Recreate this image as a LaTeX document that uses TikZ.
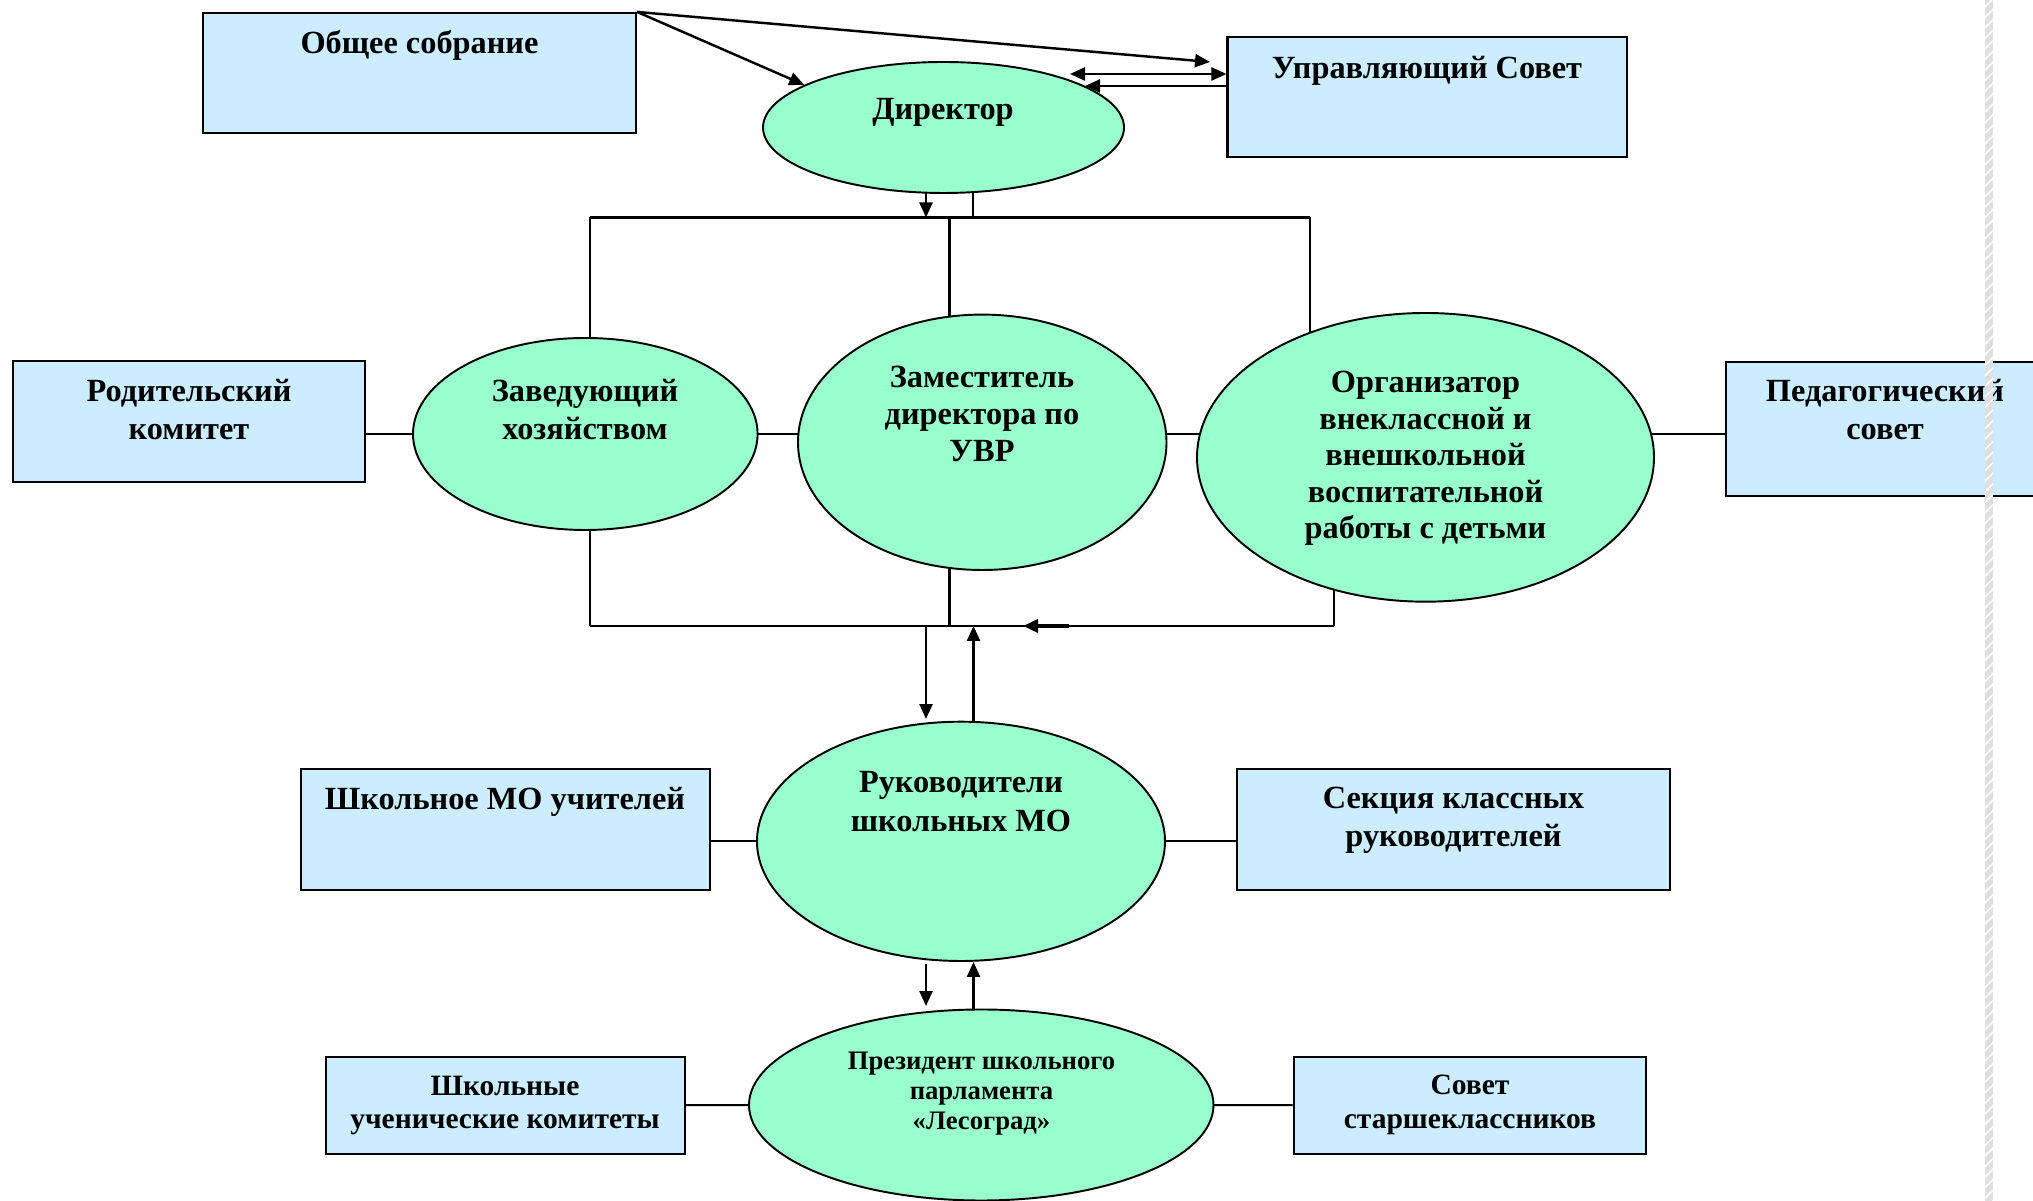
\documentclass[tikz,border=0pt]{standalone}
\usepackage{fontspec}
\setmainfont{Liberation Serif}
\usetikzlibrary{shapes.geometric,arrows.meta,patterns,calc}
\pgfdeclarelayer{bg}
\pgfsetlayers{bg,main}
\definecolor{boxfill}{HTML}{CCECFF}
\definecolor{ellfill}{HTML}{99FFCC}
\newcommand{\ml}[1]{\begin{tabular}[t]{@{}c@{}}#1\end{tabular}}
\tikzset{
  box/.style={draw, fill=boxfill, line width=0.6pt, inner sep=0pt},
  ell/.style={draw, ellipse, fill=ellfill, line width=0.55pt, inner sep=0pt},
  txt/.style={anchor=base, inner sep=0pt, font=\fontsize{9.2}{10.8}\selectfont\bfseries},
  txtb/.style={anchor=base, inner sep=0pt, font=\fontsize{9.2}{10.4}\selectfont\bfseries},
  txtc/.style={anchor=base, inner sep=0pt, font=\fontsize{9.2}{11}\selectfont\bfseries},
  txts/.style={anchor=base, inner sep=0pt, font=\fontsize{8.4}{9.4}\selectfont\bfseries},
  txtp/.style={anchor=base, inner sep=0pt, font=\fontsize{7.6}{8.5}\selectfont\bfseries},
  link/.style={line width=0.6pt},
  arr/.style={line width=0.7pt, -{Triangle[length=1.5mm,width=1.3mm]}},
  darr/.style={line width=0.7pt, {Triangle[length=1.5mm,width=1.3mm]}-{Triangle[length=1.5mm,width=1.3mm]}},
}
\begin{document}
\begin{tikzpicture}[x=0.1mm,y=-0.1mm]
\useasboundingbox (0,0) rectangle (2033,1201);
\clip (0,0) rectangle (2033,1201);

% boxes
\node[box, minimum width=43.3mm, minimum height=12.0mm] (obs) at (419.5,73) {};
\node[box, minimum width=39.95mm, minimum height=12.03mm] (upr) at (1427.25,96.85) {};
\node[box, minimum width=35.2mm, minimum height=12.1mm] (rod) at (189,421.5) {};
\node[box, minimum width=31.94mm, minimum height=13.4mm] (ped) at (1885.3,429) {};
\node[box, minimum width=40.86mm, minimum height=12.07mm] (shkmo) at (505.3,829.35) {};
\node[box, minimum width=43.3mm, minimum height=12.1mm] (sek) at (1453.5,829.5) {};
\node[box, minimum width=35.94mm, minimum height=9.72mm] (shkuch) at (505.3,1105.2) {};
\node[box, minimum width=35.24mm, minimum height=9.72mm] (sovet) at (1469.8,1105.2) {};

% ellipses
\node[ell, minimum width=36.1mm, minimum height=13.1mm] (dir) at (943.5,127.5) {};
\node[ell, minimum width=34.46mm, minimum height=19.2mm] (zav) at (585.3,434) {};
\node[ell, minimum width=36.85mm, minimum height=25.54mm] (zam) at (982.25,442.3) {};
\node[ell, minimum width=45.7mm, minimum height=28.87mm] (org) at (1425.5,457.35) {};
\node[ell, minimum width=40.8mm, minimum height=23.93mm] (ruk) at (961,841.35) {};
\node[ell, minimum width=46.45mm, minimum height=19.1mm] (pres) at (981.25,1105) {};

% bus coordinates
\coordinate (tL) at (590,217.5);
\coordinate (tM) at (949.5,217.5);
\coordinate (tR) at (1310,217.5);
\coordinate (tA) at (926,217.5);
\coordinate (tB) at (973,217.5);
\coordinate (bL) at (590,626);
\coordinate (bM) at (949.5,626);
\coordinate (bR) at (1334,626);
\coordinate (rA) at (926,626);
\coordinate (rB) at (973.5,626);
\coordinate (bA) at (1069,626);
\coordinate (bB) at (1023,626);
\coordinate (uprA) at (1210,62);
\coordinate (dA) at (1070,74);
\coordinate (dB) at (1085,86);

\begin{pgfonlayer}{bg}
  % top bus
  \draw[link] (tL) -- (tR);
  \draw[link] (tL) -- (tL |- zav.center);
  \draw[link] (tM) -- (tM |- zam.center);
  \draw[link] (tR) -- (tR |- org.center);
  \draw[arr] (tA |- dir.center) -- (tA);
  \draw[link] (tB |- dir.center) -- (tB);
  % bottom bus
  \draw[link] (bL) -- (bR);
  \draw[link] (bL |- zav.center) -- (bL);
  \draw[link] (bM |- zam.center) -- (bM);
  \draw[link] (bR |- org.center) -- (bR);
  % side links
  \draw[link] (rod.east |- zav.center) -- (zav.center);
  \draw[link] (zav.center) -- (zav.center -| zam.center);
  \draw[link] (zam.center |- zav.center) -- (org.center |- zav.center);
  \draw[link] (org.center |- zav.center) -- (ped.west |- zav.center);
  \draw[link] (shkmo.east |- ruk.center) -- (ruk.center) -- (sek.west |- ruk.center);
  \draw[link] (shkuch.east) -- (pres.center) -- (sovet.west);
\end{pgfonlayer}

% arrows
\draw[arr] (obs.north east) -- (dir.163);
\draw[arr] (obs.north east) -- (uprA);
\draw[darr] (dA) -- (dA -| upr.west);
\draw[arr] (dB -| upr.west) -- (dB);
\draw[arr, line width=1pt] (bA) -- (bB);
\draw[arr, shorten >=0.17mm] (rA) -- (rA |- ruk.north);
\draw[arr] (rB |- ruk.north) -- (rB);
\draw[arr, shorten >=0.25mm, shorten <=0.17mm] (rA |- ruk.south) -- (rA |- pres.north);
\draw[arr] (rB |- pres.north) -- (rB |- ruk.south);

% texts
\node[txt] (obsT) at (419.5,53.6) {Общее собрание};
\node[txt] (uprT) at (1427,78.5) {Управляющий Совет};
\node[txt] (dirT) at (943,120) {Директор};
\node[txt] (rodT) at (189,402) {\ml{Родительский\\комитет}};
\node[txt] (zavT) at (585,402) {\ml{Заведующий\\хозяйством}};
\node[txtb] (zamT) at (982,388) {\ml{Заместитель\\директора по\\УВР}};
\node[txtb] (orgT) at (1425.5,392.7) {\ml{Организатор\\внеклассной и\\внешкольной\\воспитательной\\работы с детьми}};
\node[txt] (pedT) at (1885,402) {\ml{Педагогический\\совет}};
\node[txt] (shkmoT) at (505,809.7) {Школьное МО учителей};
\node[txtc] (rukT) at (961,793) {\ml{Руководители\\школьных МО}};
\node[txt] (sekT) at (1453.5,808.6) {\ml{Секция классных\\руководителей}};
\node[txts] (shkuchT) at (505,1095.6) {\ml{Школьные\\ученические комитеты}};
\node[txtp] (presT) at (981.5,1070) {\ml{Президент школьного\\парламента\\«Лесоград»}};
\node[txts] (sovetT) at (1470,1095) {\ml{Совет\\старшеклассников}};

% decorative stripe at the right
\fill[gray!25] (1985,0) rectangle (1993,1201);
\fill[pattern=north east lines, pattern color=white] (1985,0) rectangle (1993,1201);
\end{tikzpicture}
\end{document}
